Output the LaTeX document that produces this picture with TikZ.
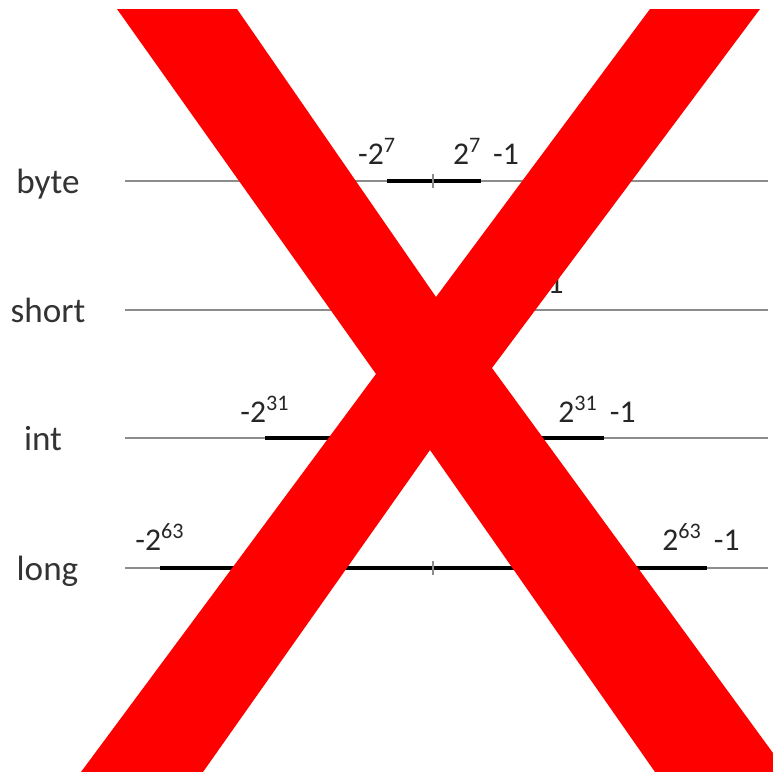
\documentclass[tikz,border=0pt]{standalone}
\usepackage{fontspec}
\setmainfont{Carlito}
\usepackage{tikz}

\begin{document}
\begin{tikzpicture}[rowlbl/.style={anchor=base,font=\fontsize{20}{24}\selectfont,text=black!80,inner sep=0pt},
numlbl/.style={anchor=base,font=\fontsize{18}{22}\selectfont,text=black!85,inner sep=0pt},
axisline/.style={draw=black!45,line width=0.6pt},
rangebar/.style={draw=black,line width=2.3pt},
tickmark/.style={draw=black!45,line width=0.6pt}]
\useasboundingbox (0,0) rectangle (15.46,-15.44);
\node[rowlbl] (r0) at (0.96,-3.86) {byte};
\node[rowlbl] (r1) at (0.96,-6.44) {short};
\node[rowlbl] (r2) at (0.86,-9.0) {int};
\node[rowlbl] (r3) at (0.95,-11.6) {long};
\coordinate (a0) at (2.5,-3.62);
\coordinate (b0) at (15.36,-3.62);
\coordinate (a1) at (2.5,-6.2);
\coordinate (b1) at (15.36,-6.2);
\coordinate (a2) at (2.5,-8.76);
\coordinate (b2) at (15.36,-8.76);
\coordinate (a3) at (2.5,-11.36);
\coordinate (b3) at (15.36,-11.36);
\draw[axisline] (a0)--(b0);
\draw[axisline] (a1)--(b1);
\draw[axisline] (a2)--(b2);
\draw[axisline] (a3)--(b3);
\coordinate (lo0) at (7.74,-3.62);
\coordinate (hi0) at (9.62,-3.62);
\coordinate (lo1) at (6.8,-6.2);
\coordinate (hi1) at (10.5,-6.2);
\coordinate (lo2) at (5.3,-8.76);
\coordinate (hi2) at (12.08,-8.76);
\coordinate (lo3) at (3.2,-11.36);
\coordinate (hi3) at (14.14,-11.36);
\draw[rangebar] (lo0)--(hi0);
\draw[rangebar] (lo1)--(hi1);
\draw[rangebar] (lo2)--(hi2);
\draw[rangebar] (lo3)--(hi3);
\coordinate (z0) at (8.66,-3.62);
\coordinate (z1) at (8.66,-6.2);
\coordinate (z2) at (8.66,-8.76);
\coordinate (z3) at (8.66,-11.36);
\draw[tickmark] ([yshift=-0.14cm]z0)--([yshift=0.14cm]z0);
\draw[tickmark] ([yshift=-0.14cm]z1)--([yshift=0.14cm]z1);
\draw[tickmark] ([yshift=-0.14cm]z2)--([yshift=0.14cm]z2);
\draw[tickmark] ([yshift=-0.14cm]z3)--([yshift=0.14cm]z3);
\node[numlbl] (l0) at ([xshift=-0.2cm,yshift=0.34cm]lo0) {-2\textsuperscript{7}};
\node[numlbl] (h0) at ([xshift=0.1cm,yshift=0.34cm]hi0) {2\textsuperscript{7}\hspace{0.38em}-1};
\node[numlbl] (l1) at ([yshift=0.34cm]lo1) {-2\textsuperscript{15}};
\node[numlbl] (h1) at ([yshift=0.34cm]hi1) {2\textsuperscript{15}\hspace{0.38em}-1};
\node[numlbl] (l2) at ([yshift=0.32cm]lo2) {-2\textsuperscript{31}};
\node[numlbl] (h2) at ([xshift=-0.14cm,yshift=0.32cm]hi2) {2\textsuperscript{31}\hspace{0.38em}-1};
\node[numlbl] (l3) at ([yshift=0.36cm]lo3) {-2\textsuperscript{63}};
\node[numlbl] (h3) at ([xshift=-0.12cm,yshift=0.36cm]hi3) {2\textsuperscript{63}\hspace{0.38em}-1};
\fill[red] (2.34,-0.18) -- (4.74,-0.18) -- (8.72,-5.94) -- (13.0,-0.18) -- (15.2,-0.18) -- (9.84,-7.36) -- (15.46,-15.06) -- (15.46,-15.44) -- (13.1,-15.44) -- (8.6,-9.0) -- (4.06,-15.44) -- (1.62,-15.44) -- (7.52,-7.48) -- cycle;
\end{tikzpicture}
\end{document}
